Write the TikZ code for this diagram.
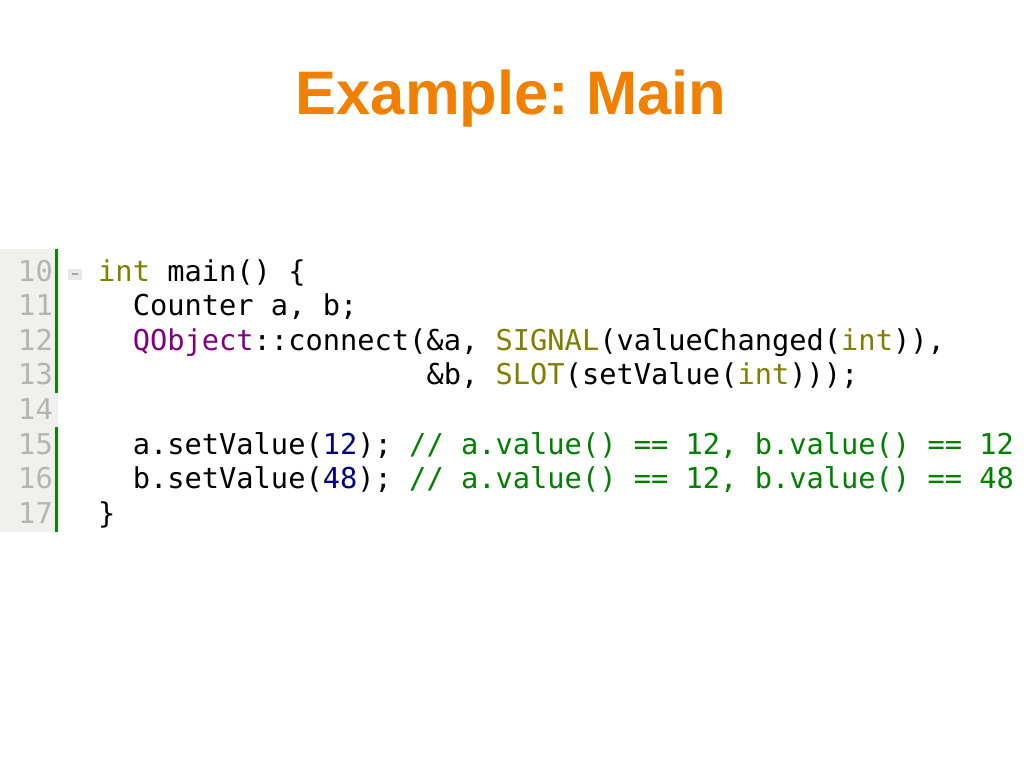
\documentclass[tikz,border=0pt]{standalone}
\usepackage{fontspec}
\setmainfont{Liberation Sans}
\setmonofont{DejaVu Sans Mono}
\usetikzlibrary{positioning}
\definecolor{titleorange}{RGB}{242,128,0}
\definecolor{kwolive}{RGB}{128,128,0}
\definecolor{typepurple}{RGB}{128,0,128}
\definecolor{numnavy}{RGB}{0,0,128}
\definecolor{commentgreen}{RGB}{0,128,0}
\definecolor{numgray}{RGB}{180,180,180}
\definecolor{guttergray}{RGB}{240,240,238}
\definecolor{changedgreen}{RGB}{0,140,0}
\newcommand\kw[1]{\textcolor{kwolive}{#1}}
\newcommand\ty[1]{\textcolor{typepurple}{#1}}
\newcommand\nm[1]{\textcolor{numnavy}{#1}}
\newcommand\cm[1]{\textcolor{commentgreen}{#1}}
\newcommand\cw{17.28}
\frenchspacing
\begin{document}
\begin{tikzpicture}[x=1pt,y=-1pt,
            title/.style = {anchor=base,inner sep=0,text=titleorange,
                font=\fontsize{61.5}{70}\selectfont\bfseries},
            code/.style = {anchor=base west,inner sep=0,
                font=\ttfamily\fontsize{28.7}{34.6}\selectfont},
            lineno/.style = {code,anchor=base east,text=numgray},
            gutter/.style = {fill=guttergray},
            changed/.style = {fill=changedgreen}]
            \fill[white] (0,0) rectangle (1024,768);
            \useasboundingbox (0,0) rectangle (1024,768);
            \node[title] (title) at (511,114) {Example: Main};
            % gutter with line numbers
            \fill[gutter] (0,249) rectangle (55,532);
            \fill[gutter] (55,393) rectangle (58,427);
            \fill[changed] (54.5,249) rectangle (57.5,393);
            \fill[changed] (54.5,427) rectangle (57.5,532);
            \foreach \n [evaluate=\n as \yy using 281+(\n-10)*34.6] in {10,...,17}
                \node[lineno] (num\n) at (53,\yy) {\n};
            \node[fill=gray!18,minimum width=14pt,minimum height=11pt,inner sep=0] (fold) at (75,274) {};
            \draw[gray!70,line width=1.5pt] ([xshift=-3pt]fold.center) -- ([xshift=3pt]fold.center);
            % code lines
            \node[code] (code10) at (98,281) {\kw{int}~main()~\{};
            \node[code] (code11) at (98+2*\cw,315.6) {Counter~a,~b;};
            \node[code] (code12) at (98+2*\cw,350.2) {\ty{QObject}::connect(\&a,~\kw{SIGNAL}(valueChanged(\kw{int})),};
            \node[code] (code13) at (98+19*\cw,384.8) {\&b,~\kw{SLOT}(setValue(\kw{int})));};
            \node[code] (code15) at (98+2*\cw,454) {a.setValue(\nm{12});~\cm{//~a.value()~==~12,~b.value()~==~12}};
            \node[code] (code16) at (98+2*\cw,488.6) {b.setValue(\nm{48});~\cm{//~a.value()~==~12,~b.value()~==~48}};
            \node[code] (code17) at (98,523.2) {\}};
\end{tikzpicture}
\end{document}
